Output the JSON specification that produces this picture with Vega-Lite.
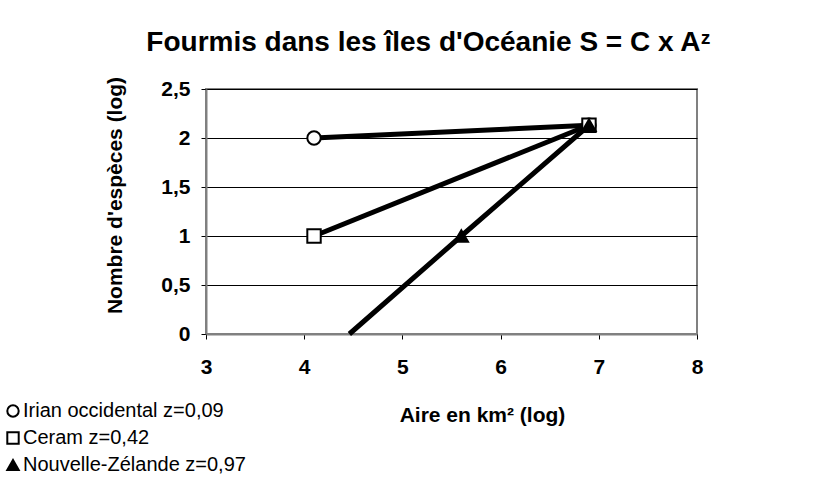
{
  "$schema": "https://vega.github.io/schema/vega-lite/v6.json",
  "width": 491,
  "height": 245,
  "autosize": {"type": "none"},
  "padding": {"left": 206, "top": 89, "right": 141, "bottom": 159},
  "background": "white",
  "title": {
    "text": "Fourmis dans les îles d'Océanie S = C x Aᶻ",
    "anchor": "middle",
    "frame": "group",
    "dx": -23,
    "offset": 19,
    "fontSize": 28,
    "fontWeight": "bold",
    "font": "Liberation Sans",
    "color": "black"
  },
  "data": {
    "values": [
      {"serie": "Irian occidental z=0,09", "aire": 4.1, "especes": 2.0, "pt": true},
      {"serie": "Irian occidental z=0,09", "aire": 6.9, "especes": 2.13, "pt": true},
      {"serie": "Ceram z=0,42", "aire": 4.1, "especes": 1.0, "pt": true},
      {"serie": "Ceram z=0,42", "aire": 6.9, "especes": 2.13, "pt": true},
      {"serie": "Nouvelle-Zélande z=0,97", "aire": 4.46, "especes": 0.0, "pt": false},
      {"serie": "Nouvelle-Zélande z=0,97", "aire": 5.6, "especes": 1.0, "pt": true},
      {"serie": "Nouvelle-Zélande z=0,97", "aire": 6.9, "especes": 2.13, "pt": true}
    ]
  },
  "encoding": {
    "x": {
      "field": "aire",
      "type": "quantitative",
      "scale": {"domain": [3, 8], "nice": false, "zero": false},
      "axis": {
        "values": [3, 4, 5, 6, 7, 8],
        "title": "Aire en km² (log)",
        "grid": false,
        "domainColor": "#808080",
        "domainWidth": 2,
        "tickColor": "black",
        "tickSize": 5,
        "labelPadding": 17,
        "labelFontSize": 21,
        "labelFontWeight": "bold",
        "labelColor": "black",
        "labelFlush": false,
        "titleFontSize": 21,
        "titleFontWeight": "bold",
        "titleColor": "black",
        "titleX": 276,
        "titleY": 81,
        "titleBaseline": "middle",
        "titleAlign": "center"
      }
    },
    "y": {
      "field": "especes",
      "type": "quantitative",
      "scale": {"domain": [0, 2.5], "nice": false},
      "axis": {
        "values": [0, 0.5, 1, 1.5, 2, 2.5],
        "labelExpr": "replace(format(datum.value, '~g'), '.', ',')",
        "title": "Nombre d'espèces (log)",
        "grid": true,
        "gridColor": "black",
        "gridWidth": 1,
        "domainColor": "#808080",
        "domainWidth": 2,
        "tickColor": "black",
        "tickSize": 5,
        "labelPadding": 11,
        "labelFontSize": 21,
        "labelFontWeight": "bold",
        "labelColor": "black",
        "labelFlush": false,
        "titleFontSize": 21,
        "titleFontWeight": "bold",
        "titleColor": "black",
        "titleX": -91,
        "titleY": 106,
        "titleAngle": -90,
        "titleBaseline": "middle",
        "titleAlign": "center"
      }
    }
  },
  "layer": [
    {
      "mark": {"type": "line", "color": "black", "strokeWidth": 5},
      "encoding": {"detail": {"field": "serie"}}
    },
    {
      "transform": [{"filter": "datum.pt"}],
      "mark": {"type": "point", "filled": false, "opacity": 1, "strokeWidth": 2, "size": 180},
      "encoding": {
        "shape": {
          "field": "serie",
          "type": "nominal",
          "scale": {
            "domain": ["Irian occidental z=0,09", "Ceram z=0,42", "Nouvelle-Zélande z=0,97"],
            "range": ["circle", "square", "triangle-up"]
          },
          "legend": {
            "title": null,
            "orient": "none",
            "legendX": -203,
            "legendY": 312,
            "labelFontSize": 20,
            "labelFont": "Liberation Sans",
            "labelColor": "black",
            "labelLimit": 400,
            "symbolSize": 130,
            "symbolStrokeWidth": 2,
            "rowPadding": 7,
            "labelOffset": 0,
            "padding": 0
          }
        },
        "fill": {
          "field": "serie",
          "type": "nominal",
          "scale": {
            "domain": ["Irian occidental z=0,09", "Ceram z=0,42", "Nouvelle-Zélande z=0,97"],
            "range": ["white", "white", "black"]
          }
        },
        "stroke": {
          "field": "serie",
          "type": "nominal",
          "scale": {
            "domain": ["Irian occidental z=0,09", "Ceram z=0,42", "Nouvelle-Zélande z=0,97"],
            "range": ["black", "black", "black"]
          }
        }
      }
    }
  ],
  "config": {
    "font": "Liberation Sans",
    "view": {"stroke": "#808080", "strokeWidth": 2},
    "axis": {"labelFont": "Liberation Sans", "titleFont": "Liberation Sans"}
  }
}
